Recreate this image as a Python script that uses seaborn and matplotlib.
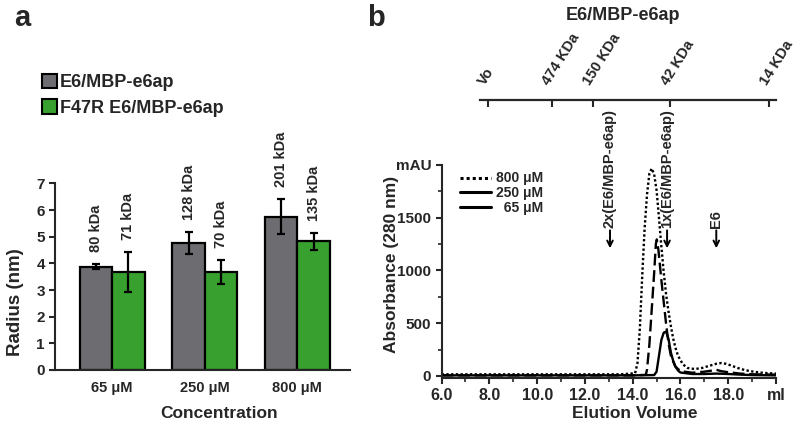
import numpy as np
import pandas as pd
import matplotlib
matplotlib.use("Agg")
import matplotlib.pyplot as plt
import seaborn as sns
from matplotlib.patches import Patch
from matplotlib.ticker import MultipleLocator

# ---- panel a: hydrodynamic radius per concentration ----
concentrations = ["65 μM", "250 μM", "800 μM"]
constructs = ["E6/MBP-e6ap", "F47R E6/MBP-e6ap"]
radius_wt = [3.87, 4.75, 5.75]
radius_wt_err = [0.09, 0.41, 0.66]
radius_f47r = [3.68, 3.68, 4.82]
radius_f47r_err = [0.74, 0.44, 0.32]
mass_wt = ["80 kDa", "128 kDa", "201 kDa"]
mass_f47r = ["71 kDa", "70 kDa", "135 kDa"]

# ---- panel b: elution traces (ml, mAU) ----
vol_800 = [6.0, 8.0, 10.0, 12.0, 13.5, 14.1, 14.2, 14.3, 14.4, 14.5, 14.6, 14.7, 14.8, 14.9, 15.0,
           15.1, 15.2, 15.3, 15.4, 15.5, 15.6, 15.7, 15.8, 15.9, 16.1, 16.3, 16.6, 16.9, 17.2, 17.5,
           17.7, 17.9, 18.1, 18.4, 18.7, 19.1, 19.5, 20.0]
abs_800 = [15, 15, 15, 15, 15, 25, 120, 450, 950, 1400, 1720, 1920, 1967, 1910, 1760,
           1500, 1230, 980, 770, 610, 470, 350, 260, 190, 110, 75, 65, 75, 95, 115,
           122, 115, 100, 75, 55, 38, 28, 22]
vol_250 = [6.0, 8.0, 10.0, 12.0, 14.0, 14.55, 14.6, 14.7, 14.8, 14.9, 14.97, 15.01, 15.08, 15.2, 15.29,
           15.4, 15.5, 15.6, 15.78, 16.0, 16.5, 17.0, 17.3, 17.5, 17.7, 18.0, 18.5, 19.0, 20.0]
abs_250 = [5, 5, 5, 5, 5, 10, 60, 300, 640, 980, 1250, 1294, 1190, 910, 720,
           490, 310, 190, 90, 45, 30, 40, 50, 58, 45, 35, 22, 15, 12]
vol_65 = [6.0, 8.0, 10.0, 12.0, 14.0, 14.9, 15.0, 15.1, 15.2, 15.3, 15.4, 15.5, 15.6, 15.7, 15.8,
          15.9, 16.0, 16.5, 17.0, 17.5, 18.0, 18.5, 19.0, 20.0]
abs_65 = [5, 5, 5, 5, 5, 8, 40, 190, 340, 410, 420, 350, 220, 140, 85,
          50, 32, 18, 18, 22, 18, 12, 8, 5]
trace_labels = ["800 μM", "250 μM", "65 μM"]

# calibration markers (top scale) and expected species
marker_vol = [7.94, 10.62, 12.34, 15.57, 19.72]
marker_lbl = ["Vo", "474 KDa", "150 KDa", "42 KDa", "14 KDa"]
arrow_vol = [13.05, 15.44, 17.50]
arrow_lbl = ["2x(E6/MBP-e6ap)", "1x(E6/MBP-e6ap)", "E6"]

sns.set_style("ticks")
plt.rcParams["font.family"] = ["Liberation Sans", "DejaVu Sans"]
plt.rcParams["font.weight"] = "bold"
plt.rcParams["axes.linewidth"] = 1.5

gray = "#6d6d71"
green = "#38a02e"

fig = plt.figure(figsize=(8, 4.33), dpi=100)
ax1 = fig.add_axes([0.069, 0.1455, 0.369, 0.431])
ax2 = fig.add_axes([0.552, 0.127, 0.418, 0.492])

# ---------------- panel a ----------------
df_a = pd.DataFrame({
    "conc": concentrations * 2,
    "construct": [constructs[0]] * 3 + [constructs[1]] * 3,
    "radius": radius_wt + radius_f47r,
})
sns.barplot(data=df_a, x="conc", y="radius", hue="construct", palette=[gray, green],
            width=0.7, errorbar=None, edgecolor="black", linewidth=1.6,
            saturation=1, legend=False, ax=ax1)

for cont, means, errs, labels in zip(ax1.containers, [radius_wt, radius_f47r],
                                     [radius_wt_err, radius_f47r_err], [mass_wt, mass_f47r]):
    xs = [p.get_x() + p.get_width() / 2 for p in cont]
    ax1.errorbar(xs, means, yerr=errs, fmt="none", ecolor="black", elinewidth=1.6,
                 capsize=3, capthick=1.6)
    for x, m, e, lbl in zip(xs, means, errs, labels):
        ax1.text(x, m + e + 0.45, lbl, rotation=90, ha="center", va="bottom",
                 fontsize=10.5, fontweight="bold")

ax1.set_xlim(-0.616, 2.573)
ax1.set_ylim(0, 7)
ax1.set_yticks(range(8))
ax1.set_xlabel("")
ax1.set_ylabel("")
ax1.tick_params(axis="y", direction="out", length=4, width=1.5, labelsize=11)
ax1.tick_params(axis="x", length=0, labelsize=10.5, pad=8)
sns.despine(ax=ax1)

fig.legend(handles=[Patch(facecolor=gray, edgecolor="black", linewidth=1.5, label=constructs[0]),
                    Patch(facecolor=green, edgecolor="black", linewidth=1.5, label=constructs[1])],
           loc="upper left", bbox_to_anchor=(0.052, 0.83), frameon=False, fontsize=13,
           handlelength=0.85, handleheight=0.85, handletextpad=0.15, labelspacing=0.45,
           borderaxespad=0, borderpad=0)

fig.text(0.019, 0.3025, "Radius (nm)", rotation=90, ha="center", va="center", fontsize=13.5, fontweight="bold")
fig.text(0.274, 0.045, "Concentration", ha="center", va="center", fontsize=12.5, fontweight="bold")

# ---------------- panel b ----------------
df_b = pd.DataFrame({
    "vol": vol_800 + vol_250 + vol_65,
    "abs": abs_800 + abs_250 + abs_65,
    "conc": [trace_labels[0]] * len(vol_800) + [trace_labels[1]] * len(vol_250) + [trace_labels[2]] * len(vol_65),
})
sns.lineplot(data=df_b, x="vol", y="abs", style="conc", style_order=trace_labels,
             dashes={trace_labels[0]: (1, 1), trace_labels[1]: (5, 2), trace_labels[2]: ""},
             color="black", linewidth=1.7, estimator=None, sort=False, ax=ax2)

handles, _ = ax2.get_legend_handles_labels()
leg = ax2.legend(handles, ["800 μM", "250 μM", "  65 μM"], loc="upper left", bbox_to_anchor=(0.055, 0.97),
                 frameon=False, fontsize=10, handlelength=2.2, handletextpad=0.4, labelspacing=0.05,
                 borderaxespad=0, borderpad=0)
for i, ln in enumerate(leg.get_lines()):
    ln.set_linewidth(2.2)
    if i > 0:
        ln.set_linestyle("-")

ax2.set_xlim(6, 20)
ax2.set_ylim(-20, 2000)
ax2.set_xticks(np.arange(6, 21, 2))
ax2.set_xticklabels(["6.0", "8.0", "10.0", "12.0", "14.0", "16.0", "18.0", "ml"])
ax2.set_yticks([0, 500, 1000, 1500, 2000])
ax2.set_yticklabels(["0", "500", "1000", "1500", "mAU"])
ax2.xaxis.set_minor_locator(MultipleLocator(1))
ax2.yaxis.set_minor_locator(MultipleLocator(250))
ax2.tick_params(which="major", direction="out", length=4, width=1.5, labelsize=11)
ax2.tick_params(axis="x", which="major", labelsize=11.5)
ax2.tick_params(which="minor", direction="out", length=3, width=1.2)
ax2.set_xlabel("")
ax2.set_ylabel("")
sns.despine(ax=ax2)

for v, lbl in zip(arrow_vol, arrow_lbl):
    ax2.annotate("", xy=(v, 1210), xytext=(v, 1380),
                 arrowprops=dict(arrowstyle="->", lw=1.4, color="black", shrinkA=0, shrinkB=0))
    ax2.text(v, 1400, lbl, rotation=90, ha="center", va="bottom",
             fontsize=10.5, fontweight="bold", clip_on=False)

fig.text(0.489, 0.39, "Absorbance (280 nm)", rotation=90, ha="center", va="center", fontsize=12.5, fontweight="bold")
fig.text(0.794, 0.045, "Elution Volume", ha="center", va="center", fontsize=12.5, fontweight="bold")

# top calibration scale
axt = fig.add_axes([0.552, 0.769, 0.418, 0.0001])
axt.set_facecolor("none")
axt.set_xlim(6, 20)
axt.set_yticks([])
for s in ["left", "right", "top"]:
    axt.spines[s].set_visible(False)
axt.spines["bottom"].set_bounds(7.6, 20)
axt.spines["bottom"].set_linewidth(1.6)
axt.set_xticks(marker_vol)
axt.set_xticklabels(marker_lbl, rotation=58, ha="left", rotation_mode="anchor")
axt.tick_params(axis="x", bottom=True, top=False, labelbottom=False, labeltop=True,
                direction="out", length=5, width=1.5, labelsize=10.5, pad=4)

fig.text(0.779, 0.965, "E6/MBP-e6ap", ha="center", va="center", fontsize=13, fontweight="bold")
fig.text(0.0275, 0.958, "a", ha="center", va="center", fontsize=21, fontweight="bold")
fig.text(0.47, 0.958, "b", ha="center", va="center", fontsize=21, fontweight="bold")

fig.savefig("out.png", dpi=100)
